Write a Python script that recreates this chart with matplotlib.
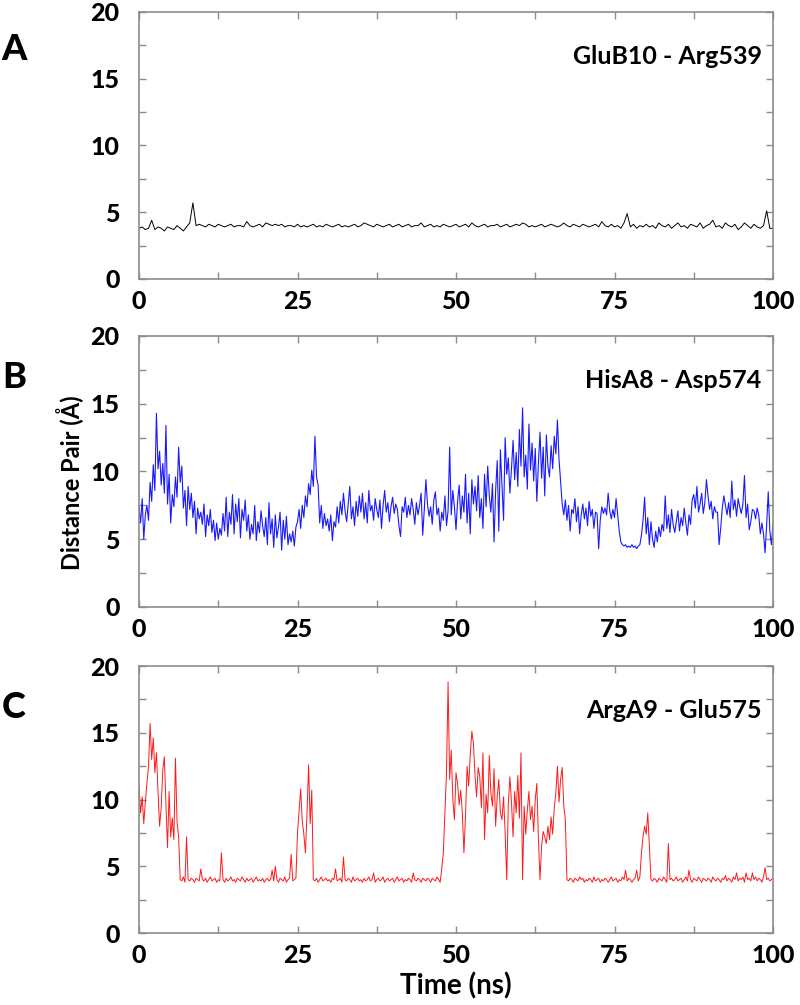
import numpy as np
import matplotlib
matplotlib.use("Agg")
import matplotlib.pyplot as plt
from matplotlib.ticker import MultipleLocator

plt.rcParams['font.family'] = ['Lato', 'DejaVu Sans']

# ---------------- data ----------------
x_ticks = [0, 25, 50, 75, 100]
y_ticks = [0, 5, 10, 15, 20]
titles = ["GluB10 - Arg539", "HisA8 - Asp574", "ArgA9 - Glu575"]
panel_letters = ["A", "B", "C"]
time_end = 100.0

dist_A = [
    3.8, 3.9, 3.7, 3.8, 4.4, 3.7, 3.9, 3.8, 3.6, 3.9, 3.8, 3.7, 4.0, 3.8, 3.6, 3.9, 4.2, 5.7, 4.0, 4.1,
    4.0, 3.9, 4.1, 4.0, 3.9, 4.1, 4.0, 3.9, 4.0, 4.1, 3.9, 4.0, 4.0, 3.9, 4.3, 4.0, 3.9, 4.0, 4.1, 3.9,
    4.2, 4.1, 4.0, 4.1, 4.0, 4.1, 3.9, 4.0, 4.0, 3.9, 4.1, 3.9, 4.0, 3.9, 4.0, 4.1, 3.9, 4.0, 3.9, 4.1,
    4.0, 3.9, 4.0, 4.1, 3.9, 4.0, 3.9, 4.0, 4.1, 3.9, 4.0, 4.2, 4.1, 4.0, 3.9, 4.1, 4.0, 3.9, 4.0, 4.1,
    3.9, 4.0, 4.1, 3.9, 4.0, 4.1, 3.9, 4.0, 4.0, 4.2, 3.9, 4.0, 4.1, 3.9, 4.0, 3.9, 4.1, 4.0, 3.9, 4.0,
    4.1, 3.9, 4.0, 4.1, 3.9, 4.2, 4.0, 3.9, 4.0, 4.1, 3.9, 4.0, 4.0, 4.1, 3.9, 4.0, 4.1, 3.9, 4.0, 4.1,
    4.0, 4.2, 4.1, 3.9, 4.0, 3.9, 4.0, 4.1, 3.9, 4.0, 4.1, 4.0, 3.9, 4.0, 4.2, 4.0, 3.9, 4.1, 4.0, 3.9,
    4.1, 4.0, 3.9, 4.0, 4.1, 3.9, 4.3, 4.0, 3.9, 4.1, 3.9, 4.0, 3.8, 4.2, 4.9, 3.9, 4.1, 3.8, 4.0, 3.9,
    4.1, 3.9, 4.0, 3.8, 4.2, 4.0, 3.9, 4.1, 3.8, 4.0, 4.2, 3.9, 4.0, 3.8, 4.1, 4.0, 3.9, 4.2, 3.8, 4.0,
    4.1, 4.4, 3.9, 4.0, 3.8, 4.2, 4.0, 3.9, 4.1, 3.7, 3.9, 4.2, 4.0, 3.8, 4.1, 3.9, 3.8, 4.0, 5.1, 3.8,
    3.8,
]

dist_B = [
    7.4, 6.2, 8.0, 5.0, 6.8, 7.5, 6.4, 9.2, 7.8, 10.5, 8.6, 14.3, 10.2, 11.5, 9.0, 10.6, 8.4, 13.4, 7.6, 9.8,
    6.2, 8.3, 7.4, 9.6, 8.1, 11.8, 9.2, 10.4, 7.3, 8.6, 6.0, 8.9, 7.2, 8.4, 6.6, 7.8, 5.4, 7.3, 6.5, 7.0,
    6.1, 7.6, 5.2, 6.8, 6.0, 7.2, 5.5, 6.4, 4.9, 6.2, 5.0, 5.8, 5.3, 6.9, 5.6, 8.1, 5.2, 7.0, 6.1, 8.3,
    5.4, 7.6, 6.3, 8.0, 5.1, 7.2, 6.4, 7.9, 5.6, 6.8, 5.0, 6.1, 5.4, 7.5, 4.9, 6.3, 5.5, 7.1, 6.0, 5.2,
    6.6, 4.6, 7.7, 5.4, 6.5, 4.4, 6.8, 5.1, 5.9, 7.0, 4.2, 6.4, 5.0, 6.7, 4.6, 5.4, 4.8, 5.6, 4.5, 5.9,
    6.3, 7.2, 5.8, 7.5, 6.6, 8.2, 7.4, 9.1, 8.3, 10.1, 8.9, 12.6, 9.6, 9.0, 6.2, 7.5, 5.8, 6.9, 6.0, 6.5,
    5.6, 6.8, 4.9, 6.3, 5.9, 7.4, 6.2, 7.8, 6.8, 8.4, 7.1, 6.3, 7.6, 8.9, 6.5, 7.4, 6.0, 7.8, 6.7, 8.2,
    7.0, 8.4, 6.5, 7.7, 6.2, 8.6, 7.1, 7.5, 6.4, 8.0, 7.2, 6.6, 7.9, 5.8, 7.5, 8.6, 7.0, 7.7, 6.3, 7.4,
    8.1, 6.9, 7.6, 7.2, 6.0, 5.2, 7.4, 7.0, 8.1, 6.6, 7.5, 6.8, 8.0, 7.2, 6.1, 7.7, 6.8, 7.5, 8.4, 5.3,
    7.2, 9.4, 7.6, 6.7, 7.4, 6.1, 7.9, 8.5, 6.8, 7.3, 5.6, 7.0, 6.4, 8.2, 6.0, 7.1, 11.8, 6.8, 8.6, 7.4,
    5.7, 7.8, 9.0, 6.5, 8.2, 7.0, 9.8, 6.2, 8.4, 5.4, 9.4, 7.6, 8.9, 7.1, 9.7, 6.6, 8.0, 5.8, 9.8, 7.4,
    10.4, 8.2, 7.0, 9.1, 4.8, 8.6, 10.8, 5.6, 11.6, 9.0, 6.4, 12.5, 9.8, 11.0, 8.4, 10.2, 12.3, 9.4, 11.4, 8.9,
    13.1, 10.4, 14.7, 9.6, 11.2, 8.7, 13.5, 10.1, 12.1, 9.3, 11.7, 7.8, 10.6, 12.9, 9.5, 11.8, 8.2, 12.7, 10.4, 9.6,
    11.9, 10.2, 12.6, 11.3, 13.8, 10.9, 9.2, 7.6, 6.8, 7.9, 6.4, 7.5, 5.6, 7.2, 6.9, 8.0, 6.3, 7.4, 5.4, 6.8,
    7.6, 6.5, 7.3, 6.0, 7.8, 6.7, 7.2, 5.8, 7.0, 6.9, 4.3, 6.4, 7.4, 6.9, 7.3, 6.8, 8.4, 7.1, 6.5, 7.2,
    6.6, 8.0, 6.8, 5.6, 4.8, 4.6, 4.5, 4.6, 4.4, 4.5, 4.4, 4.6, 4.4, 4.5, 4.3, 4.5, 4.6, 5.3, 6.4, 8.1,
    5.4, 6.6, 4.6, 6.3, 5.0, 4.4, 5.6, 4.8, 5.9, 5.2, 6.1, 5.6, 8.2, 5.8, 6.8, 5.5, 7.2, 6.1, 5.5, 6.3,
    7.1, 5.6, 6.6, 6.0, 7.3, 6.2, 5.3, 6.8, 6.1, 7.9, 8.3, 7.3, 8.9, 7.0, 7.6, 8.4, 6.9, 7.7, 9.4, 8.2,
    7.2, 7.8, 6.5, 7.4, 7.0, 7.0, 4.6, 5.8, 7.3, 8.2, 7.5, 6.8, 7.7, 6.6, 9.3, 7.2, 7.9, 6.7, 8.0, 7.4,
    6.9, 7.6, 9.7, 6.6, 7.6, 5.7, 6.3, 7.2, 7.1, 6.5, 7.3, 6.8, 5.4, 6.2, 5.4, 4.0, 6.1, 8.5, 5.6, 4.6,
    6.2,
]

dist_C = [
    11.0, 9.0, 10.2, 8.2, 9.8, 11.2, 12.5, 15.7, 13.0, 14.6, 12.0, 13.5, 10.6, 8.0, 9.4, 12.2, 13.2, 9.6, 6.4, 10.6,
    7.2, 8.6, 7.0, 13.1, 8.3, 7.2, 4.0, 3.9, 4.2, 3.8, 7.2, 4.0, 3.9, 4.1, 4.0, 3.8, 4.1, 4.0, 3.9, 4.8,
    4.0, 3.9, 4.1, 3.8, 4.0, 4.2, 3.9, 4.0, 4.1, 3.8, 4.0, 3.9, 6.0, 4.0, 3.8, 4.1, 3.9, 4.0, 4.2, 3.9,
    4.0, 3.8, 4.1, 4.0, 3.9, 4.2, 4.0, 3.8, 4.1, 3.9, 4.0, 4.1, 3.8, 4.0, 4.2, 3.9, 4.0, 3.9, 4.1, 3.8,
    4.0, 4.1, 3.9, 4.0, 4.7, 3.9, 5.0, 4.0, 3.8, 4.1, 4.0, 3.9, 4.2, 3.8, 4.0, 4.1, 5.9, 3.9, 4.0, 4.1,
    7.5, 9.2, 10.8, 8.4, 7.4, 6.0, 9.0, 12.6, 8.2, 10.7, 4.0, 3.9, 4.1, 3.8, 4.0, 4.2, 3.9, 4.0, 4.1, 3.9,
    4.0, 3.8, 4.1, 4.0, 4.8, 3.9, 4.0, 4.1, 3.8, 5.7, 4.0, 3.9, 4.1, 4.0, 3.8, 4.2, 3.9, 4.0, 4.1, 3.9,
    4.0, 3.8, 4.1, 3.9, 4.0, 4.2, 3.9, 4.0, 4.5, 3.8, 4.0, 4.1, 3.9, 4.0, 4.2, 3.8, 4.0, 4.1, 3.9, 4.0,
    4.1, 3.8, 4.0, 4.2, 3.9, 4.0, 4.1, 3.8, 4.0, 3.9, 4.1, 4.0, 3.8, 4.5, 4.0, 3.9, 4.1, 4.0, 3.8, 4.1,
    4.0, 3.9, 4.1, 4.0, 3.8, 4.1, 4.0, 3.9, 4.2, 4.0, 3.8, 4.8, 6.0, 9.0, 12.0, 18.8, 11.5, 13.7, 10.0, 8.5,
    12.0, 11.2, 9.6, 10.7, 9.0, 6.0, 8.8, 12.5, 11.0, 13.4, 15.1, 14.2, 11.8, 10.2, 12.4, 11.7, 9.4, 13.5, 7.0, 10.4,
    9.0, 13.3, 10.5, 9.5, 12.3, 8.0, 10.2, 11.5, 9.0, 8.5, 10.2, 7.5, 4.0, 9.7, 11.7, 9.8, 7.2, 10.6, 9.0, 11.8,
    8.6, 13.5, 4.0, 9.5, 7.4, 9.2, 10.6, 8.5, 9.5, 7.6, 10.0, 11.2, 7.0, 4.0, 6.5, 7.6, 7.2, 6.7, 8.0, 7.0,
    8.7, 7.4, 9.4, 10.5, 12.5, 9.8, 11.5, 12.4, 9.5, 8.5, 4.0, 3.9, 4.1, 4.0, 3.8, 4.1, 4.0, 3.9, 4.2, 4.0,
    4.1, 3.8, 4.0, 3.9, 4.1, 4.0, 3.8, 4.2, 3.9, 4.0, 4.1, 3.8, 4.0, 3.9, 4.1, 4.0, 3.8, 4.0, 4.2, 3.9,
    4.0, 4.1, 3.8, 4.0, 3.9, 4.2, 4.0, 4.7, 3.9, 4.1, 4.0, 3.8, 4.0, 4.1, 4.7, 3.9, 4.2, 6.0, 7.2, 8.0,
    7.4, 9.0, 6.5, 4.0, 3.9, 4.1, 4.0, 3.8, 4.1, 4.0, 3.9, 4.2, 4.0, 3.8, 6.7, 4.0, 4.1, 3.9, 4.0, 4.2,
    3.9, 4.0, 4.1, 3.8, 4.0, 4.2, 3.9, 4.7, 4.0, 3.8, 4.1, 4.0, 3.9, 4.2, 4.0, 3.8, 4.1, 4.0, 3.9, 4.1,
    4.0, 3.8, 4.2, 4.0, 3.9, 4.1, 4.0, 3.8, 4.1, 4.0, 4.3, 3.9, 4.1, 4.0, 3.8, 4.2, 4.0, 4.5, 3.9, 4.1,
    4.0, 4.2, 3.8, 4.5, 4.0, 4.1, 3.9, 4.5, 4.0, 4.2, 3.9, 4.1, 4.0, 3.8, 4.2, 4.9, 4.0, 4.1, 3.9, 4.0,
    4.1,
]

series = [dist_A, dist_B, dist_C]
colors = ["black", "#0000ff", "#ff0000"]
widths = [0.7, 0.8, 0.7]

# ---------------- figure ----------------
fig = plt.figure(figsize=(8.0, 10.05), dpi=100)
W, H = 800.0, 1005.0
panels_px = [(12, 279), (336, 607), (666, 933)]   # top, bottom in pixels
left_px, right_px = 139, 773
spine_col = "#8c8c8c"
heavy = 900

axes = []
for i, (top, bot) in enumerate(panels_px):
    ax = fig.add_axes([left_px / W, 1 - bot / H, (right_px - left_px) / W, (bot - top) / H])
    y = np.asarray(series[i], dtype=float)
    t = np.linspace(0, time_end, len(y))
    ax.plot(t, y, color=colors[i], lw=widths[i], alpha=0.9 if i else 1.0)
    ax.set_xlim(0, 100)
    ax.set_ylim(0, 20)
    ax.set_xticks(x_ticks)
    ax.set_yticks(y_ticks)
    ax.xaxis.set_minor_locator(MultipleLocator(12.5))
    ax.yaxis.set_minor_locator(MultipleLocator(2.5))
    ax.tick_params(which="both", direction="in", top=True, right=True,
                   length=5, width=1, color=spine_col)
    ax.tick_params(axis="y", which="major", pad=14, labelsize=18)
    ax.tick_params(axis="x", which="major", pad=8, labelsize=18)
    for lab in ax.get_xticklabels() + ax.get_yticklabels():
        lab.set_fontweight(heavy)
    for sp in ax.spines.values():
        sp.set_color(spine_col)
        sp.set_linewidth(1.2)
    ax.text(0.982, 0.835, titles[i], transform=ax.transAxes, ha="right", va="center",
            fontsize=18, fontweight="bold")
    axes.append(ax)

# panel letters
for letter, ypx in zip(panel_letters, [50, 378, 707]):
    fig.text(14 / W, 1 - ypx / H, letter, ha="center", va="center",
             fontsize=26, fontweight=heavy)

fig.text(70 / W, 1 - 483 / H, "Distance Pair (Å)", rotation=90, ha="center", va="center",
         fontsize=17, fontweight="bold")
fig.text(456 / W, 1 - 986 / H, "Time (ns)", ha="center", va="center",
         fontsize=20, fontweight="bold")

fig.savefig("out.png", dpi=100)
